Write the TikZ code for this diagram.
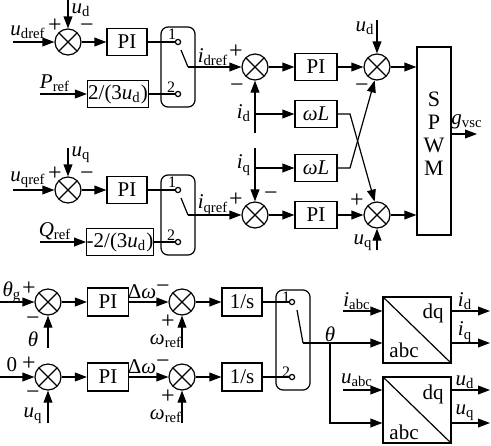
\documentclass[tikz,border=0pt]{standalone}
\usepackage{fontspec}
\setmainfont{Liberation Serif}
\usetikzlibrary{arrows.meta}
\newcommand{\vsub}[2]{\textit{#1}\textsubscript{#2}}

\begin{document}
\begin{tikzpicture}[x=0.5pt,y=-0.5pt,line width=0.6pt,
    font={\fontsize{10.5}{12.5}\selectfont},
    sum/.style={circle,draw,inner sep=0pt,minimum size=13pt,
      path picture={\draw (path picture bounding box.north west)--(path picture bounding box.south east)
        (path picture bounding box.south west)--(path picture bounding box.north east);}},
    blk/.style={draw,inner sep=0pt,minimum height=13.5pt},
    swbox/.style={draw,rounded corners=3.5pt,minimum width=17pt},
    term/.style={circle,draw,inner sep=0pt,minimum size=2.6pt},
    tfbox/.style={draw,minimum width=34pt,minimum height=33pt},
    arr/.style={-{Triangle[length=6pt,width=4.4pt]}},
    lbl/.style={inner sep=0pt},
    sgn/.style={inner sep=0pt,font=\large},
    num/.style={inner sep=0pt,font=\footnotesize}]
    \useasboundingbox (0,0) rectangle (491,445);

    % d axis
    \node[sum] (s1) at (68,42) {};
    \node[blk,minimum width=20pt] (pi1) at (127,42) {PI};
    \node[swbox,minimum height=40pt] (sw1) at (178,67) {};
    \node[term] (t11) at (178,42) {};
    \node[term] (t12) at (178,94) {};
    \node[blk,minimum width=30.5pt] (k1) at (118,94) {2/(3\vsub{u}{d})};
    \node[sum] (s2) at (255,67) {};
    \node[blk,minimum width=21pt] (pi2) at (316,67) {PI};
    \node[sum] (s3) at (377,67) {};
    \node[blk,minimum width=21pt] (wl1) at (316,114) {\textit{ωL}};
    \node[blk,minimum width=21pt] (wl2) at (316,168) {\textit{ωL}};
    \node[draw,minimum width=17pt,minimum height=94pt] (pwm) at (434,141) {};
    \node[lbl,align=center,font={\fontsize{11}{11.5}\selectfont}] (pwmtxt) at (434,134) {S\\P\\W\\M};

    % q axis
    \node[sum] (s6) at (68,190) {};
    \node[blk,minimum width=20pt] (pi5) at (127,190) {PI};
    \node[swbox,minimum height=40pt] (sw2) at (178,215) {};
    \node[term] (t21) at (178,190) {};
    \node[term] (t22) at (178,242) {};
    \node[blk,minimum width=32.5pt] (k2) at (120,242) {-2/(3\vsub{u}{d})};
    \node[sum] (s4) at (255,215) {};
    \node[blk,minimum width=21pt] (pi3) at (316,215) {PI};
    \node[sum] (s5) at (377,215) {};

    % PLL
    \node[sum] (p1) at (48,302) {};
    \node[blk,minimum width=20.5pt,minimum height=14pt] (pi4) at (108,302) {PI};
    \node[sum] (p2) at (182,302) {};
    \node[blk,minimum width=20pt,minimum height=14pt] (int1) at (242,302) {1/s};
    \node[sum] (p3) at (48,377) {};
    \node[blk,minimum width=20.5pt,minimum height=14pt] (pi6) at (108,377) {PI};
    \node[sum] (p4) at (182,377) {};
    \node[blk,minimum width=20pt,minimum height=14pt] (int2) at (242,377) {1/s};
    \node[swbox,minimum height=50pt] (sw3) at (293,340) {};
    \node[term] (t31) at (292,302) {};
    \node[term] (t32) at (292,377) {};
    \node[tfbox] (tf1) at (417,330) {};
    \node[tfbox] (tf2) at (417,410) {};

    % free ends
    \coordinate (in1) at (13,42);
    \coordinate (ud1) at (68,0);
    \coordinate (pref) at (40,94);
    \coordinate (b1) at (181,50);
    \coordinate (b1e) at (188,67);
    \coordinate (ud2) at (377,20);
    \coordinate (id0) at (255,133);
    \coordinate (c1) at (350,114);
    \coordinate (c2) at (350,168);
    \coordinate (iq0) at (255,148);
    \coordinate (gv) at (477,134);
    \coordinate (in2) at (13,190);
    \coordinate (uq1) at (68,148);
    \coordinate (qref) at (40,242);
    \coordinate (b2) at (181,198);
    \coordinate (b2e) at (188,215);
    \coordinate (uq2) at (377,250);
    \coordinate (thg) at (0,302);
    \coordinate (th0) at (48,348);
    \coordinate (wr1) at (182,348);
    \coordinate (zr) at (0,377);
    \coordinate (uq3) at (48,423);
    \coordinate (wr2) at (182,423);
    \coordinate (b3) at (297,310);
    \coordinate (b3e) at (303,343);
    \coordinate (jt) at (330,343);
    \coordinate (th2) at (330,423);
    \coordinate (iabc) at (343,311);
    \coordinate (uabc) at (343,390);
    \coordinate (o1) at (490,311);
    \coordinate (o2) at (490,343);
    \coordinate (o3) at (490,390);
    \coordinate (o4) at (490,423);

    % connectors
    \draw[arr] (in1) -- (s1);
    \draw[arr] (ud1) -- (s1);
    \draw[arr] (s1) -- (pi1);
    \draw (pi1) -- (t11);
    \draw[arr] (pref) -- (k1);
    \draw (k1) -- (t12);
    \draw (b1) -- (b1e);
    \draw[arr] (b1e) -- (s2);
    \draw[arr] (s2) -- (pi2);
    \draw[arr] (pi2) -- (s3);
    \draw[arr] (ud2) -- (s3);
    \draw[arr] (s3) -- (s3 -| pwm.west);
    \draw[arr] (id0) -- (s2);
    \draw[arr] (id0 |- wl1) -- (wl1);
    \draw[arr] (iq0) -- (s4);
    \draw[arr] (iq0 |- wl2) -- (wl2);
    \draw[arr] (wl1) -- (c1) -- (s5.100);
    \draw[arr] (wl2) -- (c2) -- (s3.260);
    \draw[arr] (in2) -- (s6);
    \draw[arr] (uq1) -- (s6);
    \draw[arr] (s6) -- (pi5);
    \draw (pi5) -- (t21);
    \draw[arr] (qref) -- (k2);
    \draw (k2) -- (t22);
    \draw (b2) -- (b2e);
    \draw[arr] (b2e) -- (s4);
    \draw[arr] (s4) -- (pi3);
    \draw[arr] (pi3) -- (s5);
    \draw[arr] (uq2) -- (s5);
    \draw[arr] (s5) -- (s5 -| pwm.west);
    \draw[arr] (pwm.east |- gv) -- (gv);

    \draw[arr] (thg) -- (p1);
    \draw[arr] (th0) -- (p1);
    \draw[arr] (p1) -- (pi4);
    \draw[arr] (pi4) -- (p2);
    \draw[arr] (wr1) -- (p2);
    \draw[arr] (p2) -- (int1);
    \draw (int1) -- (t31);
    \draw[arr] (zr) -- (p3);
    \draw[arr] (uq3) -- (p3);
    \draw[arr] (p3) -- (pi6);
    \draw[arr] (pi6) -- (p4);
    \draw[arr] (wr2) -- (p4);
    \draw[arr] (p4) -- (int2);
    \draw (int2) -- (t32);
    \draw (b3) -- (b3e);
    \draw[arr] (b3e) -- (b3e -| tf1.west);
    \draw[arr] (jt) -- (th2) -- (th2 -| tf2.west);
    \draw[arr] (iabc) -- (iabc -| tf1.west);
    \draw[arr] (uabc) -- (uabc -| tf2.west);
    \draw (tf1.north west) -- (tf1.south east);
    \draw (tf2.north west) -- (tf2.south east);
    \draw[arr] (o1 -| tf1.east) -- (o1);
    \draw[arr] (o2 -| tf1.east) -- (o2);
    \draw[arr] (o3 -| tf2.east) -- (o3);
    \draw[arr] (o4 -| tf2.east) -- (o4);

    % labels
    \node[lbl] (l1) at (28,32) {\vsub{u}{dref}};
    \node[sgn] (l2) at (55,26) {+};
    \node[lbl,anchor=west] (l3) at (71,10) {\vsub{u}{d}};
    \node[sgn] (l4) at (87,28) {−};
    \node[lbl] (l5) at (55,83) {\vsub{P}{ref}};
    \node[num] (l6) at (172,34) {1};
    \node[num] (l7) at (171,87) {2};
    \node[lbl] (l8) at (213,57) {\vsub{i}{dref}};
    \node[sgn] (l9) at (236,52) {+};
    \node[sgn] (l10) at (237,88) {−};
    \node[lbl] (l11) at (244,113) {\vsub{i}{d}};
    \node[lbl] (l12) at (244,165) {\vsub{i}{q}};
    \node[lbl] (l13) at (365,28) {\vsub{u}{d}};
    \node[sgn] (l14) at (362,88) {−};
    \node[lbl] (l15) at (467,122) {\vsub{g}{vsc}};
    \node[lbl] (l16) at (28,180) {\vsub{u}{qref}};
    \node[sgn] (l17) at (55,174) {+};
    \node[lbl,anchor=west] (l18) at (71,155) {\vsub{u}{q}};
    \node[sgn] (l19) at (87,176) {−};
    \node[lbl] (l20) at (55,231) {\vsub{Q}{ref}};
    \node[num] (l21) at (172,182) {1};
    \node[num] (l22) at (171,235) {2};
    \node[lbl] (l23) at (213,205) {\vsub{i}{qref}};
    \node[sgn] (l24) at (236,200) {+};
    \node[sgn] (l25) at (271,196) {−};
    \node[sgn] (l26) at (357,201) {+};
    \node[lbl] (l27) at (363,243) {\vsub{u}{q}};

    \node[lbl] (l28) at (12,292) {\vsub{θ}{g}};
    \node[sgn] (l29) at (29,289) {+};
    \node[sgn] (l30) at (33,321) {−};
    \node[lbl] (l31) at (33,339) {\textit{θ}};
    \node[lbl] (l32) at (142,292) {Δ\textit{ω}};
    \node[sgn] (l33) at (163,289) {−};
    \node[sgn] (l34) at (168,322) {+};
    \node[lbl] (l35) at (166,341) {\vsub{ω}{ref}};
    \node[num] (l36) at (286,297) {1};
    \node[num] (l37) at (286,372) {2};
    \node[lbl] (l38) at (12,365) {0};
    \node[sgn] (l39) at (29,364) {+};
    \node[sgn] (l40) at (33,395) {−};
    \node[lbl] (l41) at (33,416) {\vsub{u}{q}};
    \node[lbl] (l42) at (142,367) {Δ\textit{ω}};
    \node[sgn] (l43) at (163,364) {−};
    \node[sgn] (l44) at (168,397) {+};
    \node[lbl] (l45) at (166,416) {\vsub{ω}{ref}};
    \node[lbl] (l46) at (330,334) {\textit{θ}};
    \node[lbl] (l47) at (357,301) {\vsub{i}{abc}};
    \node[lbl] (l48) at (357,380) {\vsub{u}{abc}};
    \node[lbl] (l49) at (433,313) {dq};
    \node[lbl] (l50) at (404,350) {abc};
    \node[lbl] (l51) at (433,394) {dq};
    \node[lbl] (l52) at (404,432) {abc};
    \node[lbl] (l53) at (465,301) {\vsub{i}{d}};
    \node[lbl] (l54) at (465,332) {\vsub{i}{q}};
    \node[lbl] (l55) at (465,382) {\vsub{u}{d}};
    \node[lbl] (l56) at (465,413) {\vsub{u}{q}};
\end{tikzpicture}
\end{document}
